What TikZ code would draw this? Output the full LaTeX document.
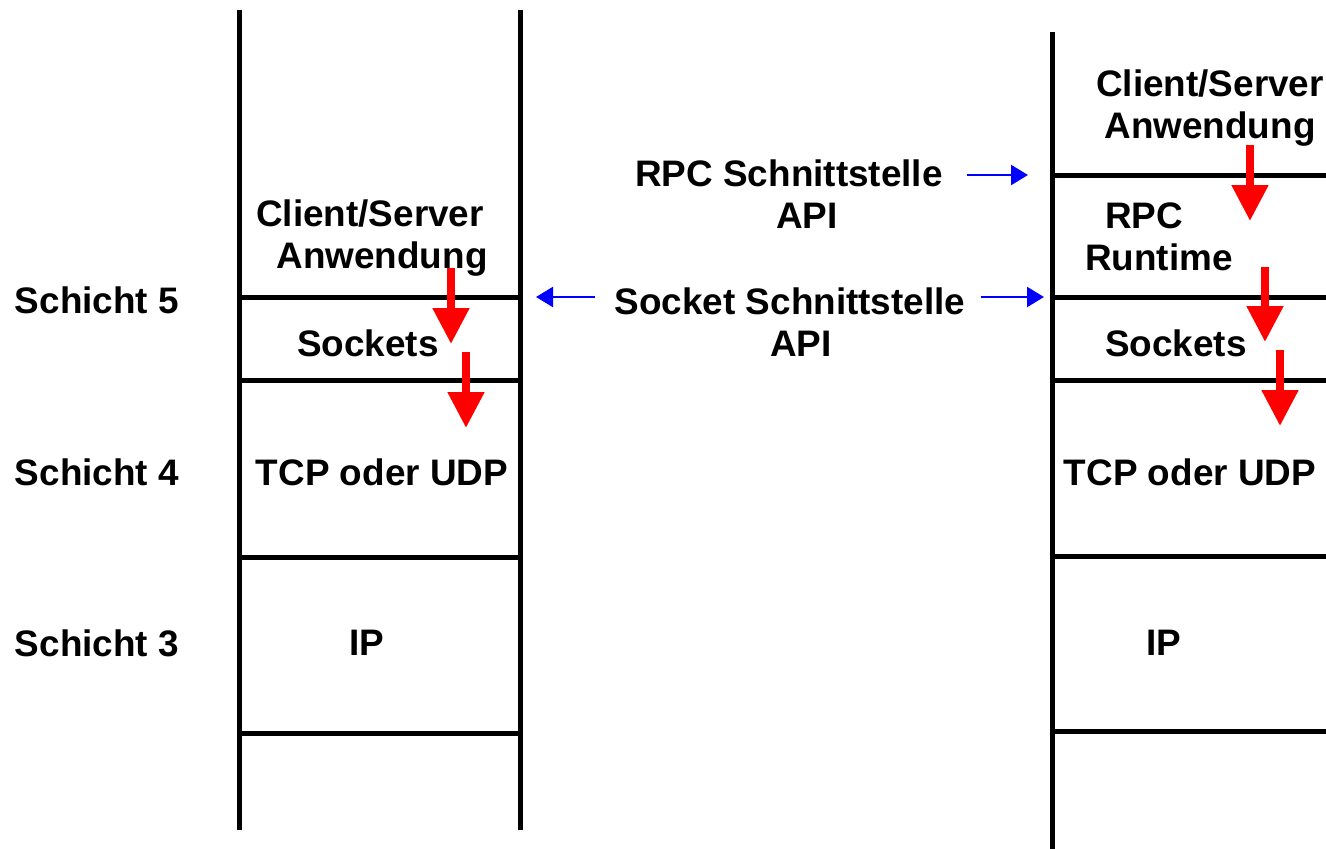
\documentclass[tikz,border=0pt]{standalone}
\usepackage{fontspec}
\setmainfont{Liberation Sans}
\usetikzlibrary{arrows.meta}
\begin{document}
\begin{tikzpicture}[x=0.02cm,y=-0.02cm,
  schicht/.style={line width=0.1cm},
  lbl/.style={font=\bfseries\fontsize{21}{24}\selectfont, align=center, inner sep=0pt},
  rotpfeil/.style={red, line width=0.16cm, -{Triangle[length=0.72cm,width=0.7cm]}},
  blaupfeil/.style={blue, line width=0.045cm, -{Triangle[length=0.34cm,width=0.4cm]}}]

\useasboundingbox (0,0) rectangle (1326,849);

% linker Stapel
\draw[schicht] (239,10) -- (239,830);
\draw[schicht] (520,10) -- (520,830);
\foreach \y in {297,380,557,733}
  \draw[schicht] (239,\y) -- (520,\y);

% rechter Stapel
\draw[schicht] (1052,32) -- (1052,849);
\foreach \y in {175,297,380,556,731}
  \draw[schicht] (1052,\y) -- (1326,\y);

%Beschriftung
\node[lbl] (s5) at (97,300) {Schicht 5};
\node[lbl] (s4) at (97,472) {Schicht 4};
\node[lbl] (s3) at (97,643) {Schicht 3};

\node[lbl] (anwL) at (370,238) {Client/Server\\\hspace*{0.48cm}Anwendung};
\node[lbl] (sockL) at (368,343) {Sockets};
\node[lbl] (tcpL) at (382,472) {TCP oder UDP};
\node[lbl] (ipL) at (367,643) {IP};

\node[lbl] (rpcapi) at (789,194) {RPC Schnittstelle\\\hspace*{0.72cm}API};
\node[lbl] (sockapi) at (790,322) {Socket Schnittstelle\\\hspace*{0.44cm}API};

\node[lbl] (anwR) at (1210,108) {Client/Server\\Anwendung};
\node[lbl] (rpcR) at (1159,237) {RPC\hspace*{0.6cm}\\Runtime};
\node[lbl] (sockR) at (1176,343) {Sockets};
\node[lbl] (tcpR) at (1190,472) {TCP oder UDP};
\node[lbl] (ipR) at (1164,643) {IP};

% Schnittstellen
\coordinate (rpcziel) at (1028,175);
\coordinate (sockzielL) at (536,297);
\coordinate (sockzielR) at (1044,297);
\draw[blaupfeil, shorten <=0.48cm] (rpcapi.east |- rpcziel) -- (rpcziel);
\draw[blaupfeil, shorten <=0.3cm] (sockapi.east |- sockzielR) -- (sockzielR);
\draw[blaupfeil, shorten <=0.38cm] (sockapi.west |- sockzielL) -- (sockzielL);

% Datenfluss
\draw[rotpfeil] (451,268) -- (451,344);
\draw[rotpfeil] (466,352) -- (466,428);
\draw[rotpfeil] (1250,145) -- (1250,221);
\draw[rotpfeil] (1265,267) -- (1265,342);
\draw[rotpfeil] (1280,350) -- (1280,426);

\end{tikzpicture}
\end{document}
